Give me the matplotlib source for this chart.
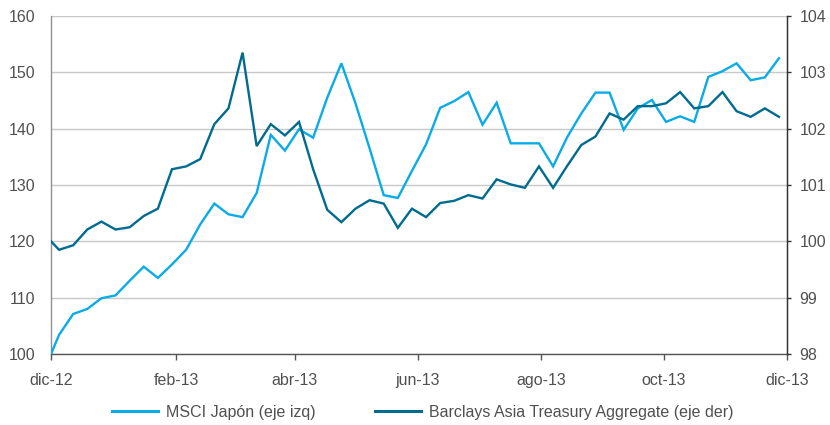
import matplotlib
matplotlib.use("Agg")
import matplotlib.pyplot as plt
import pandas as pd

# ---- data ----
dates = pd.DatetimeIndex([pd.Timestamp("2012-12-01")]).append(
    pd.date_range("2012-12-05", periods=52, freq="7D"))

msci_japon = [100.0, 103.4, 107.1, 108.0, 109.9, 110.4, 113.0, 115.5, 113.5, 115.9,
              118.5, 123.0, 126.7, 124.8, 124.3, 128.6, 138.9, 136.1, 139.9, 138.4,
              145.5, 151.6, 144.5, 136.5, 128.2, 127.7, 132.5, 137.2, 143.7, 144.9,
              146.5, 140.7, 144.6, 137.4, 137.4, 137.4, 133.3, 138.5, 142.7, 146.4,
              146.4, 139.8, 143.6, 145.1, 141.2, 142.2, 141.2, 149.2, 150.2, 151.6,
              148.6, 149.1, 152.5]

barclays_asia = [100.00, 99.85, 99.93, 100.21, 100.35, 100.21, 100.25, 100.45, 100.58, 101.28,
                 101.33, 101.46, 102.08, 102.36, 103.35, 101.69, 102.08, 101.88, 102.12, 101.28,
                 100.56, 100.34, 100.58, 100.73, 100.67, 100.24, 100.58, 100.43, 100.68, 100.72,
                 100.82, 100.76, 101.10, 101.01, 100.95, 101.33, 100.95, 101.34, 101.71, 101.86,
                 102.27, 102.16, 102.40, 102.40, 102.45, 102.65, 102.36, 102.40, 102.65, 102.31,
                 102.21, 102.36, 102.21]

tick_dates = ["2012-12-01", "2013-02-01", "2013-04-01", "2013-06-01",
              "2013-08-01", "2013-10-01", "2013-12-01"]
tick_labels = ["dic-12", "feb-13", "abr-13", "jun-13", "ago-13", "oct-13", "dic-13"]

left_ticks = [100, 110, 120, 130, 140, 150, 160]
right_ticks = [98, 99, 100, 101, 102, 103, 104]

series_names = ["MSCI Japón (eje izq)", "Barclays Asia Treasury Aggregate (eje der)"]

# ---- style ----
plt.rcParams['font.family'] = ['Liberation Sans', 'DejaVu Sans']
TXT = "#505050"
LIGHT = "#0AABE6"
DARK = "#006B8F"
FS = 11.5

fig = plt.figure(figsize=(8.3, 4.25), dpi=100)
ax = fig.add_axes([51/830, 1 - 354/425, (787 - 51)/830, (354 - 16)/425])
ax2 = ax.twinx()

l1, = ax.plot(dates, msci_japon, color=LIGHT, lw=1.7, solid_joinstyle="miter", zorder=3)
l2, = ax2.plot(dates, barclays_asia, color=DARK, lw=1.7, solid_joinstyle="miter", zorder=3)

ax.set_xlim(pd.Timestamp("2012-12-01"), pd.Timestamp("2013-12-01"))
ax.set_ylim(100, 160)
ax2.set_ylim(98, 104)
ax.set_yticks(left_ticks)
ax2.set_yticks(right_ticks)
ax.set_xticks(pd.to_datetime(tick_dates))
ax.set_xticklabels(tick_labels)

ax.grid(axis="y", color="#c8c8c8", lw=1.0, zorder=0)
ax.set_axisbelow(True)

for a in (ax, ax2):
    a.spines["top"].set_visible(False)
    a.patch.set_visible(False)
ax.spines["left"].set_color("#909090")
ax.spines["bottom"].set_color("#555555")
ax2.spines["right"].set_color("#333333")
ax2.spines["left"].set_visible(False)
ax2.spines["bottom"].set_visible(False)
for s in ("left", "bottom"):
    ax.spines[s].set_linewidth(1.0)
ax2.spines["right"].set_linewidth(1.0)

ax.tick_params(axis="y", length=0, pad=11, labelsize=FS, labelcolor=TXT)
ax.tick_params(axis="x", length=4, width=1, color="#555555", pad=10, labelsize=FS, labelcolor=TXT)
ax2.tick_params(axis="y", length=3, width=1, color="#333333", pad=6, labelsize=FS, labelcolor=TXT)

leg = fig.legend([l1, l2], series_names, loc="center left", bbox_to_anchor=(112/830, 13/425),
                 ncol=2, frameon=False, fontsize=FS, handlelength=2.9, handletextpad=0.5,
                 columnspacing=3.7, borderpad=0, borderaxespad=0, labelcolor=TXT)
for h in leg.get_lines():
    h.set_linewidth(2.2)

fig.savefig("out.png", dpi=100)
